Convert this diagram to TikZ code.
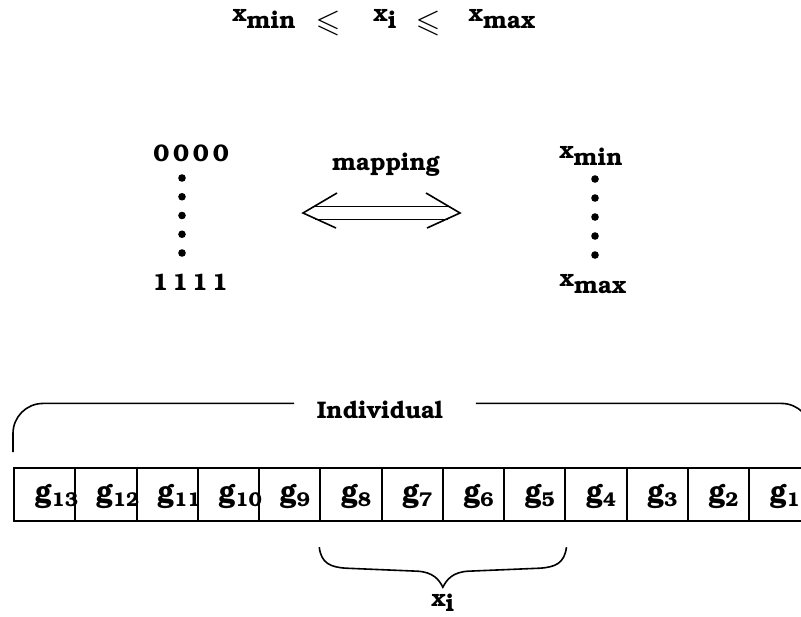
\documentclass[tikz,border=0pt]{standalone}
\usepackage[T1]{fontenc}
\usepackage{bookman}
\usepackage{amssymb}
\usetikzlibrary{calc}
\tikzset{
  every picture/.style={line width=0.8pt, x=0.5pt, y=-0.5pt},
  lbl/.style={font=\bfseries\fontsize{12}{14}\selectfont, inner sep=0pt},
  rel/.style={font=\fontsize{16}{16}\selectfont, inner sep=0pt},
  cell/.style={draw, line width=1.1pt, minimum width=30.625pt, minimum height=26.5pt, inner sep=0pt},
  glabel/.style={font=\bfseries\fontsize{14.5}{16}\selectfont, inner sep=0pt},
}
\newcommand{\lowsub}[1]{\raisebox{-0.6ex}{#1}}
\newcommand{\gsub}[1]{\raisebox{-0.35ex}{\fontsize{10}{10}\selectfont #1}}

\begin{document}
\begin{tikzpicture}
  \path[use as bounding box, fill=white] (0,0) rectangle (801,616);
  % range of the variable
  \node[lbl, anchor=base] (fmin) at (264,21) {x\lowsub{min}};
  \node[rel, anchor=base] (le1) at (328,31) {$\leqslant$};
  \node[lbl, anchor=base] (fxi) at (385,21) {x\lowsub{i}};
  \node[rel, anchor=base] (le2) at (428,31) {$\leqslant$};
  \node[lbl, anchor=base] (fmax) at (502,21) {x\lowsub{max}};

  % binary strings and real values
  \node[lbl, anchor=base] (zero) at (191,161) {0\,0\,0\,0};
  \node[lbl, anchor=base] (one) at (190,290) {1\,1\,1\,1};
  \foreach \k in {0,...,4} \fill (182,{178+18.75*\k}) circle (1.9pt);
  \node[lbl, anchor=base] (rmin) at (591,158) {x\lowsub{min}};
  \node[lbl, anchor=base] (rmax) at (593,286) {x\lowsub{max}};
  \foreach \k in {0,...,4} \fill (595,{179+19*\k}) circle (1.9pt);

  \node[lbl, anchor=base] (map) at (386,170) {mapping};
  \coordinate (al) at (303,213);
  \coordinate (ar) at (460,213);
  \draw ($(al)+(34,-20)$) -- (al) -- ($(al)+(33,15)$);
  \draw ($(ar)+(-34,-20)$) -- (ar) -- ($(ar)+(-33,15)$);
  \draw ($(al)+(12,-6.5)$) -- ($(ar)+(-12,-6.5)$);
  \draw ($(al)+(12,6.5)$) -- ($(ar)+(-12,6.5)$);

  % the chromosome
  \foreach \i in {1,...,13} {
    \pgfmathsetmacro{\cx}{13+(13-\i)*61.25}
    \node[cell, anchor=north west] (c\i) at (\cx,467) {};
    \node[glabel, anchor=base west] (g\i) at (\cx+21,501) {g\gsub{\i}};
  }

  \node[lbl, anchor=base] (indiv) at (380,418) {Individual};
  \draw[rounded corners=15pt] ($(c13.north west)+(0,-15)$) |- ($(indiv.west)+(-22,-6)$);
  \draw[rounded corners=15pt] ($(indiv.east)+(32,-6)$) -| ($(c1.north east)+(0,-15)$);

  % genes of x_i
  \coordinate (bl) at ($(c8.south west)+(0,25)$);
  \coordinate (br) at ($(c5.south east)+(0,25)$);
  \coordinate (tip) at ($(bl)!0.5!(br)+(0,40)$);
  \draw (bl) .. controls ($(bl)+(2,16)$) and ($(bl)+(11,20)$) .. ($(bl)+(27,21)$)
    -- ($(tip)+(-25,-16)$) .. controls ($(tip)+(-10,-15)$) and ($(tip)+(-4,-8)$) .. (tip)
    .. controls ($(tip)+(4,-8)$) and ($(tip)+(10,-15)$) .. ($(tip)+(25,-16)$)
    -- ($(br)+(-27,21)$) .. controls ($(br)+(-11,20)$) and ($(br)+(-2,16)$) .. (br);
  \node[lbl, anchor=base] (xi) at ($(tip)+(0,19)$) {x\raisebox{-0.4ex}{i}};
\end{tikzpicture}
\end{document}
